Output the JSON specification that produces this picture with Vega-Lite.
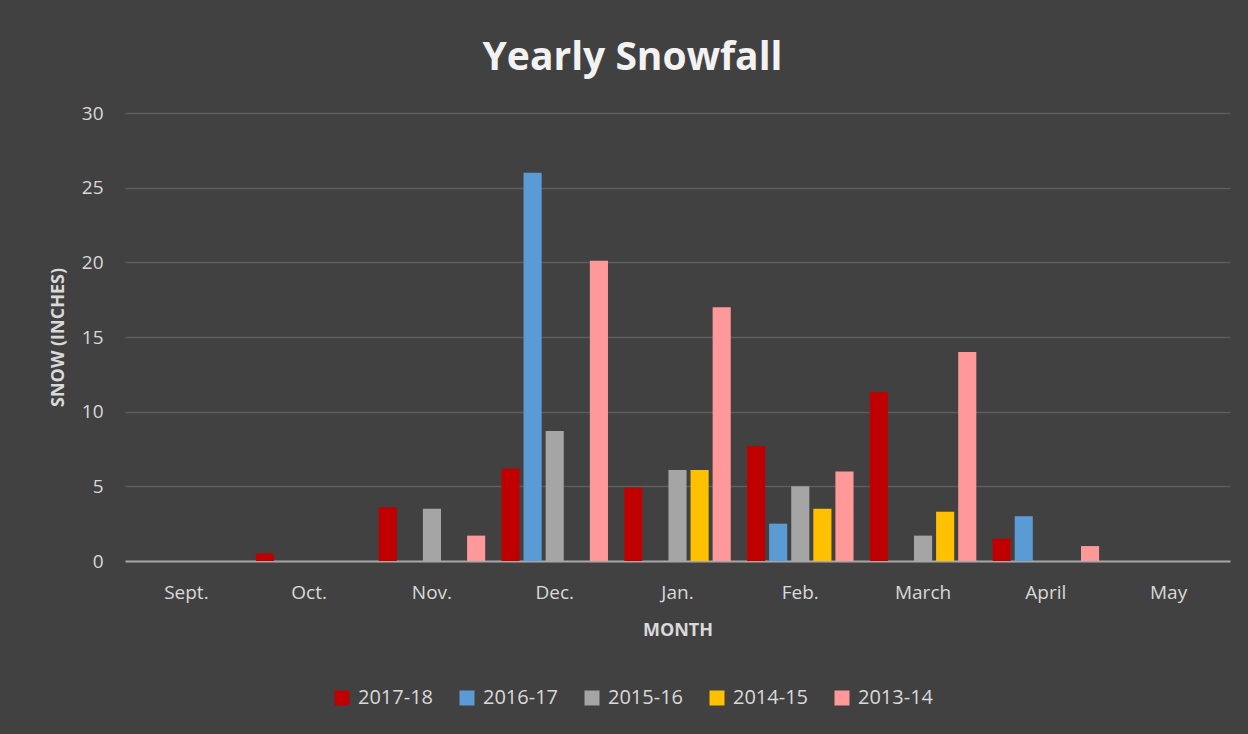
{
  "$schema": "https://vega.github.io/schema/vega-lite/v6.json",
  "width": 1105,
  "height": 448,
  "autosize": {"type": "none"},
  "padding": {"left": 125, "top": 113, "right": 18, "bottom": 173},
  "background": "#414141",
  "title": {
    "text": "Yearly Snowfall",
    "font": "Open Sans",
    "fontSize": 39,
    "fontWeight": "bold",
    "color": "#f2f2f2",
    "anchor": "middle",
    "baseline": "alphabetic",
    "offset": -5,
    "dx": -45
  },
  "data": {
    "values": [
      {"month": "Sept.", "season": "2017-18", "snow": 0},
      {"month": "Sept.", "season": "2016-17", "snow": 0},
      {"month": "Sept.", "season": "2015-16", "snow": 0},
      {"month": "Sept.", "season": "2014-15", "snow": 0},
      {"month": "Sept.", "season": "2013-14", "snow": 0},
      {"month": "Oct.", "season": "2017-18", "snow": 0.5},
      {"month": "Oct.", "season": "2016-17", "snow": 0},
      {"month": "Oct.", "season": "2015-16", "snow": 0},
      {"month": "Oct.", "season": "2014-15", "snow": 0},
      {"month": "Oct.", "season": "2013-14", "snow": 0},
      {"month": "Nov.", "season": "2017-18", "snow": 3.6},
      {"month": "Nov.", "season": "2016-17", "snow": 0},
      {"month": "Nov.", "season": "2015-16", "snow": 3.5},
      {"month": "Nov.", "season": "2014-15", "snow": 0},
      {"month": "Nov.", "season": "2013-14", "snow": 1.7},
      {"month": "Dec.", "season": "2017-18", "snow": 6.2},
      {"month": "Dec.", "season": "2016-17", "snow": 26},
      {"month": "Dec.", "season": "2015-16", "snow": 8.7},
      {"month": "Dec.", "season": "2014-15", "snow": 0},
      {"month": "Dec.", "season": "2013-14", "snow": 20.1},
      {"month": "Jan.", "season": "2017-18", "snow": 4.9},
      {"month": "Jan.", "season": "2016-17", "snow": 0},
      {"month": "Jan.", "season": "2015-16", "snow": 6.1},
      {"month": "Jan.", "season": "2014-15", "snow": 6.1},
      {"month": "Jan.", "season": "2013-14", "snow": 17},
      {"month": "Feb.", "season": "2017-18", "snow": 7.7},
      {"month": "Feb.", "season": "2016-17", "snow": 2.5},
      {"month": "Feb.", "season": "2015-16", "snow": 5},
      {"month": "Feb.", "season": "2014-15", "snow": 3.5},
      {"month": "Feb.", "season": "2013-14", "snow": 6},
      {"month": "March", "season": "2017-18", "snow": 11.3},
      {"month": "March", "season": "2016-17", "snow": 0},
      {"month": "March", "season": "2015-16", "snow": 1.7},
      {"month": "March", "season": "2014-15", "snow": 3.3},
      {"month": "March", "season": "2013-14", "snow": 14},
      {"month": "April", "season": "2017-18", "snow": 1.5},
      {"month": "April", "season": "2016-17", "snow": 3},
      {"month": "April", "season": "2015-16", "snow": 0},
      {"month": "April", "season": "2014-15", "snow": 0},
      {"month": "April", "season": "2013-14", "snow": 1},
      {"month": "May", "season": "2017-18", "snow": 0},
      {"month": "May", "season": "2016-17", "snow": 0},
      {"month": "May", "season": "2015-16", "snow": 0},
      {"month": "May", "season": "2014-15", "snow": 0},
      {"month": "May", "season": "2013-14", "snow": 0}
    ]
  },
  "mark": {"type": "bar"},
  "encoding": {
    "x": {
      "field": "month",
      "type": "nominal",
      "sort": ["Sept.", "Oct.", "Nov.", "Dec.", "Jan.", "Feb.", "March", "April", "May"],
      "scale": {"paddingInner": 0.1, "paddingOuter": 0.05},
      "axis": {
        "title": "MONTH",
        "labelAngle": 0,
        "labelFont": "Open Sans",
        "labelFontSize": 19,
        "labelColor": "#d9d9d9",
        "labelPadding": 22,
        "ticks": false,
        "domain": true,
        "domainColor": "#a6a6a6",
        "domainWidth": 2,
        "titleFont": "Open Sans",
        "titleFontSize": 18,
        "titleFontWeight": "bold",
        "titleColor": "#d9d9d9",
        "titleY": 69,
        "titleBaseline": "middle"
      }
    },
    "xOffset": {
      "field": "season",
      "type": "nominal",
      "sort": ["2017-18", "2016-17", "2015-16", "2014-15", "2013-14"],
      "scale": {"paddingInner": 0.18, "paddingOuter": 0.09}
    },
    "y": {
      "field": "snow",
      "type": "quantitative",
      "scale": {"domain": [0, 30]},
      "axis": {
        "title": "SNOW (INCHES)",
        "values": [0, 5, 10, 15, 20, 25, 30],
        "labelFont": "Open Sans",
        "labelFontSize": 19,
        "labelColor": "#d9d9d9",
        "labelPadding": 22,
        "ticks": false,
        "domain": false,
        "grid": true,
        "gridColor": "#5e5e5e",
        "gridWidth": 1.5,
        "titleFont": "Open Sans",
        "titleFontSize": 18,
        "titleFontWeight": "bold",
        "titleColor": "#d9d9d9",
        "titleX": -67,
        "titleY": 224,
        "titleAngle": -90,
        "titleAlign": "center",
        "titleBaseline": "middle"
      }
    },
    "color": {
      "field": "season",
      "type": "nominal",
      "sort": ["2017-18", "2016-17", "2015-16", "2014-15", "2013-14"],
      "scale": {
        "domain": ["2017-18", "2016-17", "2015-16", "2014-15", "2013-14"],
        "range": ["#c00000", "#5b9bd5", "#a5a5a5", "#ffc000", "#ff9999"]
      },
      "legend": {
        "title": null,
        "orient": "none",
        "direction": "horizontal",
        "legendX": 207,
        "legendY": 575,
        "symbolType": "square",
        "symbolSize": 225,
        "symbolStrokeWidth": 0,
        "symbolOpacity": 1,
        "labelFont": "Open Sans",
        "labelFontSize": 20,
        "labelColor": "#d9d9d9",
        "labelOffset": 6,
        "columnPadding": 23
      }
    }
  },
  "config": {
    "view": {"stroke": null}
  }
}
